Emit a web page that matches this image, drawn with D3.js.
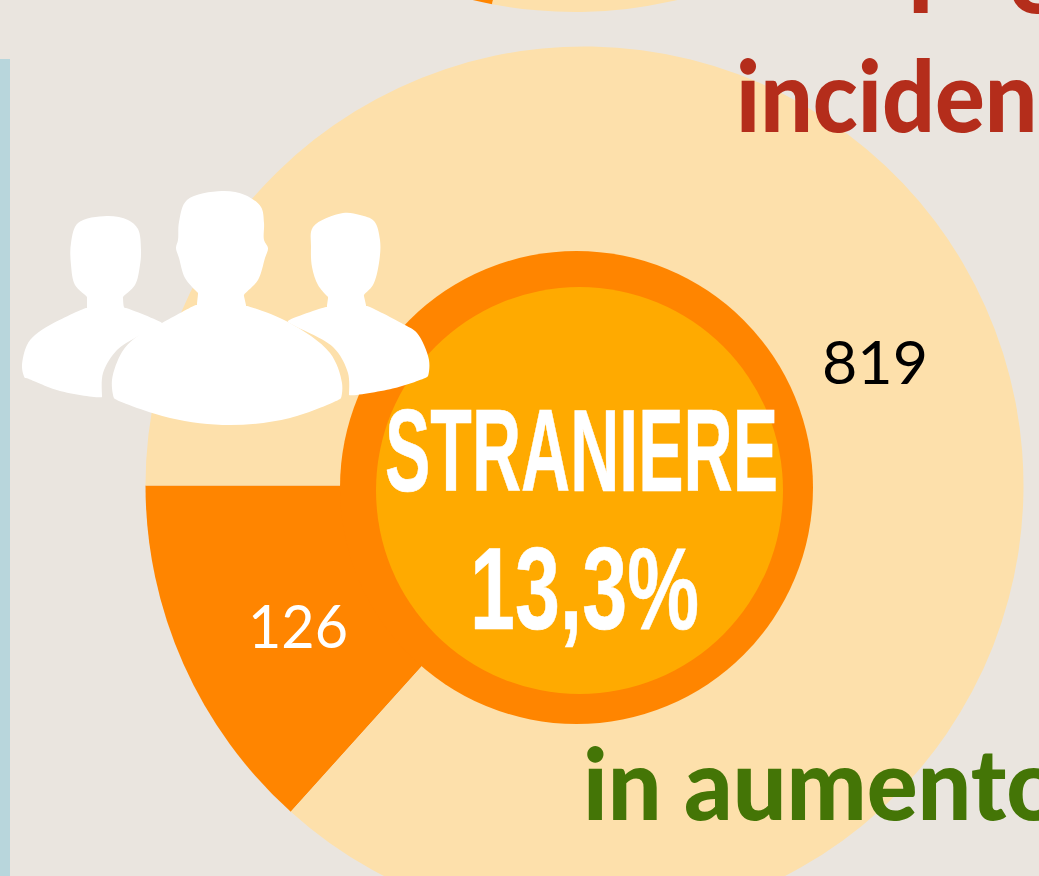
<!DOCTYPE html>
<html>
<head>
<meta charset="utf-8">
<script src="https://cdn.jsdelivr.net/npm/d3@7"></script>
<style>
html,body{margin:0;padding:0;overflow:hidden;background:#eae5df}
svg{display:block}
</style>
</head>
<body>
<div id="chart-area"></div>
<script>
const WIDTH = 1039
const HEIGHT = 876

// values
const categories = ['Straniere','Italiane']
const values = [126,819]
const valueLabels = ['126','819']
const shareLabel = '13,3%'
const titleLabel = 'STRANIERE'
// the chart above is cut by the page, only a sliver shows
const upperValues = [22,78]

const COLORS = {
	bg:'#eae5df',
	strip:'#b8d6dc',
	pale:'#fde0ab',
	orange:'#ff8500',
	yellow:'#ffaa00',
	red:'#b42d1b',
	green:'#447506'
}

const svg = d3.select('#chart-area')
.append('svg')
.attr('width',WIDTH)
.attr('height',HEIGHT)

svg.append('rect')
.attr('width',WIDTH)
.attr('height',HEIGHT)
.attr('fill',COLORS.bg)

svg.append('rect')
.attr('y',59)
.attr('width',10)
.attr('height',HEIGHT-59)
.attr('fill',COLORS.strip)

const deg = a => a*Math.PI/180

function drawPie(vals,cx,cy,r,start) {
	const pie = d3.pie().sort(null).startAngle(deg(start)).endAngle(deg(start+360))
	const arc = d3.arc().innerRadius(0).outerRadius(r)
	const color = d3.scaleOrdinal().domain([0,1]).range([COLORS.orange,COLORS.pale])
	svg.append('g')
	.attr('transform',`translate(${cx},${cy})`)
	.selectAll('path')
	.data(pie(vals))
	.enter().append('path')
	.attr('d',arc)
	.attr('fill',(d,i)=>color(i))
}

drawPie(upperValues,575,-430,442,190.8)
drawPie(values,584.5,485.5,439,222)

// centre disc
svg.append('circle').attr('cx',576.5).attr('cy',487.5).attr('r',236.5).attr('fill',COLORS.orange)
svg.append('circle').attr('cx',579.5).attr('cy',490.5).attr('r',203.5).attr('fill',COLORS.yellow)

// people icon, outlines (close pairs keep the corners sharp)
const personLeft = [[78,223],[107,216],[128,220],[138,229],[141,250],[140,265],[135,285],[123,297],[123,298],[124,307],[125,308],[126,308],[162,323],[162,323.5],[135,338],[117,350],[103,373],[102,396],[102,397],[60,391],[26,378],[25,378],[22,367],[27,345],[35,335],[50,325],[86,308],[87,308],[87,307],[87,298],[87,297],[75,285],[71,265],[71,243]]
const personMiddle = [[222,191],[187,200],[179,222],[178,240],[176,248],[179,258],[185,278],[197,292],[198,293],[198,294],[197,304],[197,305],[196,305],[162,323],[135,338],[122,352],[112,380],[114,398],[115,399],[170,418],[230,425],[290,418],[340,399],[341,398],[342,383],[330,353],[288,322],[247,306],[246,306],[246,305],[244,296],[244,295],[258,280],[265,258],[268,248],[264,240],[264,223],[261,207],[245,195]]
const personRight = [[343,213],[313,227],[311,247],[312,267],[318,285],[327,296],[328,297],[328,298],[327,306],[327,307],[326,307],[288,321],[288,322],[333,347],[348,373],[349,394],[349,395],[395,388],[427,377],[428,376],[429,360],[417,333],[405,325],[367,306],[366,306],[366,305],[364,296],[364,295],[373,285],[379,263],[380,240],[374,221],[360,215]]

const outline = d3.line().curve(d3.curveCatmullRomClosed.alpha(0.5))

svg.append('g')
.selectAll('path')
.data([personLeft,personRight,personMiddle])
.enter().append('path')
.attr('d',outline)
.attr('fill','#fff')

function addText(str,x,y,size,family,weight,fill,len) {
	const t = svg.append('text')
	.attr('x',x)
	.attr('y',y)
	.attr('font-family',family)
	.attr('font-size',size)
	.attr('font-weight',weight)
	.attr('fill',fill)
	.text(str)
	if(len) t.attr('textLength',len).attr('lengthAdjust','spacingAndGlyphs')
	return t
}

const NARROW = "'Liberation Sans Narrow','Liberation Sans',sans-serif"

addText(titleLabel,385,490.5,117,NARROW,700,'#fff',393).attr('stroke','#fff').attr('stroke-width',0.6)
addText(shareLabel,470,628.5,117,NARROW,700,'#fff',229).attr('stroke','#fff').attr('stroke-width',0.6)

addText(valueLabels[0],248,648,60,'Lato',400,'#fff',100)
addText(valueLabels[1],822,384,60,'Lato',400,'#000',106)

// hand lettered captions, cut by the page edge
addText('l',908,13,100,'Lato',900,COLORS.red)
addText('e',1008,13,100,'Lato',900,COLORS.red)
addText('incidenza',736,132,100,'Lato',900,COLORS.red,392)
addText('in aumento',583,820,100,'Lato',900,COLORS.green,478)
</script>
</body>
</html>
